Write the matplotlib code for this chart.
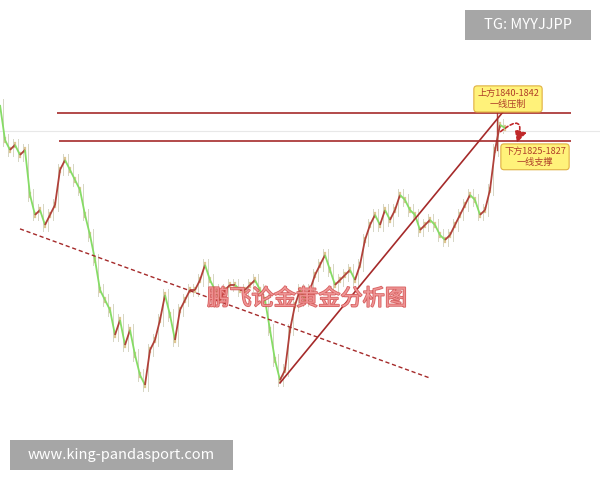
import numpy as np
import matplotlib
matplotlib.use("Agg")
import matplotlib.pyplot as plt
from matplotlib.patches import Rectangle, FancyArrowPatch
import matplotlib.patheffects as pe

plt.rcParams['font.family'] = ['Noto Sans CJK SC', 'DejaVu Sans']

# closing prices (one per bar)
close = [1845.3, 1826.5, 1821.2, 1823.9, 1818.5, 1821.2, 1797.1, 1786.4, 1789.0, 1781.0,
         1786.4, 1791.7, 1810.5, 1815.8, 1810.5, 1805.1, 1799.8, 1786.4, 1775.6, 1762.3,
         1746.2, 1740.8, 1735.5, 1722.1, 1730.1, 1716.7, 1724.8, 1711.4, 1700.6, 1695.3,
         1714.0, 1719.4, 1730.1, 1743.5, 1732.8, 1719.4, 1735.5, 1740.8, 1746.2, 1746.2,
         1751.5, 1759.6, 1751.5, 1746.2, 1740.8, 1746.2, 1748.9, 1748.9, 1746.2, 1746.2,
         1748.9, 1751.5, 1746.2, 1740.8, 1724.8, 1708.7, 1697.9, 1703.3, 1724.8, 1738.1,
         1746.2, 1740.8, 1746.2, 1754.2, 1759.6, 1764.9, 1756.9, 1748.9, 1751.5, 1754.2,
         1756.9, 1751.5, 1759.6, 1773.0, 1781.0, 1786.4, 1781.0, 1789.0, 1783.7, 1789.0,
         1797.1, 1794.4, 1789.0, 1786.4, 1778.3, 1781.0, 1783.7, 1781.0, 1775.6, 1773.0,
         1775.6, 1781.0, 1786.4, 1791.7, 1797.1, 1794.4, 1786.4, 1789.0, 1799.8, 1821.2,
         1834.6, 1833.0]

resist = 1841
support = 1826
faint_level = 1831.4
down_trend = ([4, 86], [1778.9, 1699.0])
up_trend = ([56, 101.2], [1696.4, 1843.5])

fig = plt.figure(figsize=(6, 4.8), dpi=100)
ax = fig.add_axes([0, 0, 1, 1])
ax.set_xlim(0, 120)
ax.set_ylim(1644.4, 1901.5)
ax.axis('off')

green = '#86dc66'
red = '#b0413a'
line_c = '#a52a2a'

# price path: green on falling bars, red on rising ones
for i in range(1, len(close)):
    c = green if close[i] < close[i - 1] else red
    ax.plot([i - 1, i], [close[i - 1], close[i]], color=c, lw=1.3, solid_capstyle='butt')
    # light wick
    lo, hi = sorted([close[i - 1], close[i]])
    ax.plot([i - 0.5, i - 0.5], [lo - 3, hi + 3], color='#d6d6c4', lw=0.7, zorder=0)
    # small candle body
    ax.plot([i, i], [close[i] - 1.2, close[i] + 1.2], color='#c8a048', lw=1.6, zorder=1, alpha=0.6)

# spike wick at the top
ax.plot([99.4, 99.4], [1821.2, resist], color=red, lw=1.0)

ax.axhline(faint_level, color='#e8e8e8', lw=0.8, zorder=0)
ax.hlines(resist, 11.4, 114.2, color=line_c, lw=1.2)
ax.hlines(support, 11.8, 114.2, color=line_c, lw=1.2)

ax.plot(down_trend[0], down_trend[1], color=line_c, lw=1.0, ls=(0, (3, 2)))
ax.plot(up_trend[0], up_trend[1], color=line_c, lw=1.2)

# curved dashed arrow
arr = FancyArrowPatch((100.1, 1831.0), (103.4, 1825.0), connectionstyle='arc3,rad=-1.6',
                      arrowstyle='-|>,head_length=7,head_width=3.5', color='#c0282a',
                      lw=1.2, ls=(0, (2, 1.5)), mutation_scale=1, shrinkA=0, shrinkB=0)
ax.add_patch(arr)

# annotation boxes
ax.text(101.6, 1848.5, '上方1840-1842\n一线压制', ha='center', va='center', fontsize=6.6,
        color='#b0402a', linespacing=1.2,
        bbox=dict(boxstyle='round,pad=0.35', fc='#fff27a', ec='#e0b040', lw=0.8))
ax.text(107.0, 1817.5, '下方1825-1827\n一线支撑', ha='center', va='center', fontsize=6.6,
        color='#b0402a', linespacing=1.2,
        bbox=dict(boxstyle='round,pad=0.35', fc='#fff27a', ec='#e0b040', lw=0.8))

# watermark
ax.text(0.512, 0.378, '鹏飞论金黄金分析图', transform=ax.transAxes, ha='center', va='center',
        fontsize=16, color='#f4a0a0', alpha=0.85,
        path_effects=[pe.withStroke(linewidth=1.2, foreground='#d04848')])

# corner labels
fig.add_artist(Rectangle((465 / 600, 1 - 40 / 480), 126 / 600, 30 / 480,
                         transform=fig.transFigure, fc='#a6a6a6', ec='none'))
fig.text(528 / 600, 1 - 25 / 480, 'TG: MYYJJPP', ha='center', va='center',
         fontsize=10.5, color='white')
fig.add_artist(Rectangle((10 / 600, 1 - 470 / 480), 223 / 600, 30 / 480,
                         transform=fig.transFigure, fc='#a6a6a6', ec='none'))
fig.text(121 / 600, 1 - 455 / 480, 'www.king-pandasport.com', ha='center', va='center',
         fontsize=10.5, color='white')

fig.savefig('out.png', dpi=100)
